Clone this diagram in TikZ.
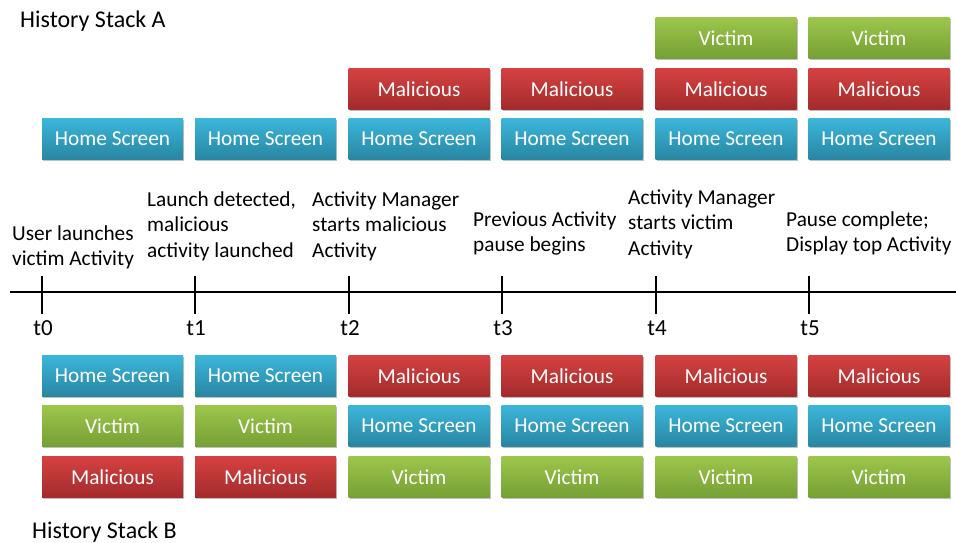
\documentclass[tikz,border=0pt]{standalone}
\usepackage{fontspec}
\setmainfont{Carlito}
\usetikzlibrary{shadows}
\definecolor{bluetop}{HTML}{3BB6DA}
\definecolor{bluebot}{HTML}{2886A2}
\definecolor{redtop}{HTML}{D64141}
\definecolor{redbot}{HTML}{A32B2B}
\definecolor{greentop}{HTML}{9DC64B}
\definecolor{greenbot}{HTML}{74A034}
\tikzset{
  box/.style={minimum width=141pt, minimum height=41pt, inner sep=0pt,
    text=white, font=\fontsize{21.3}{25}\selectfont,
    drop shadow={shadow xshift=1pt, shadow yshift=-1.5pt, opacity=0.25, fill=black}},
  homebox/.style={box, top color=bluetop, bottom color=bluebot},
  malbox/.style={box, top color=redtop, bottom color=redbot},
  vicbox/.style={box, top color=greentop, bottom color=greenbot},
  lbl/.style={inner sep=0pt, align=left, anchor=base west,
    font=\fontsize{21.3}{25.5}\selectfont},
  title/.style={inner sep=0pt, anchor=base west, font=\fontsize{24}{28}\selectfont},
  tlbl/.style={inner sep=0pt, anchor=base, font=\fontsize{23}{27}\selectfont},
  axis/.style={line width=2.7pt, black},
  tick/.style={line width=2.7pt, black},
}
\begin{document}
\begin{tikzpicture}[x=1pt, y=-1pt]
\useasboundingbox (0,0) rectangle (956,543);
% titles
\node[title] (titleA) at (20,28) {History Stack A};
\node[title] (titleB) at (32,538) {History Stack B};
% stack A
\foreach \i/\x in {1/112.5,2/265.5,3/419,4/572,5/726,6/879}{
  \node[homebox] (ah\i) at (\x,139) {Home Screen};
}
\foreach \i/\x in {3/419,4/572,5/726,6/879}{
  \node[malbox] (am\i) at (\x,89) {Malicious};
}
\foreach \i/\x in {5/726,6/879}{
  \node[vicbox] (av\i) at (\x,38) {Victim};
}
% stack B
\foreach \i/\x in {1/112.5,2/265.5}{
  \node[homebox] (bh\i) at (\x,376) {Home Screen};
  \node[vicbox] (bv\i) at (\x,426) {Victim};
  \node[malbox] (bm\i) at (\x,477) {Malicious};
}
\foreach \i/\x in {3/419,4/572,5/726,6/879}{
  \node[malbox] (bm\i) at (\x,376) {Malicious};
  \node[homebox] (bh\i) at (\x,426) {Home Screen};
  \node[vicbox] (bv\i) at (\x,477) {Victim};
}
% timeline
\coordinate (axL) at (10,292);
\coordinate (axR) at (956,292);
\draw[axis] (axL) -- (axR);
\foreach \i/\x in {0/42,1/195,2/349,3/502,4/656,5/809}{
  \coordinate (tt\i) at (\x,276);
  \coordinate (tb\i) at (\x,314);
  \draw[tick] (tt\i) -- (tb\i);
  \node[tlbl] (tl\i) at (\x+1,335) {t\i};
}
% event labels (anchored at the baseline of the last line)
\node[lbl] (e0) at (12,265.5) {User launches\\victim Activity};
\node[lbl] (e1) at (147,257) {Launch detected,\\malicious\\activity launched};
\node[lbl] (e2) at (312,257) {Activity Manager\\starts malicious\\Activity};
\node[lbl] (e3) at (473,251.5) {Previous Activity\\pause begins};
\node[lbl] (e4) at (628,255) {Activity Manager\\starts victim\\Activity};
\node[lbl] (e5) at (786,251.5) {Pause complete;\\Display top Activity};
\end{tikzpicture}
\end{document}
